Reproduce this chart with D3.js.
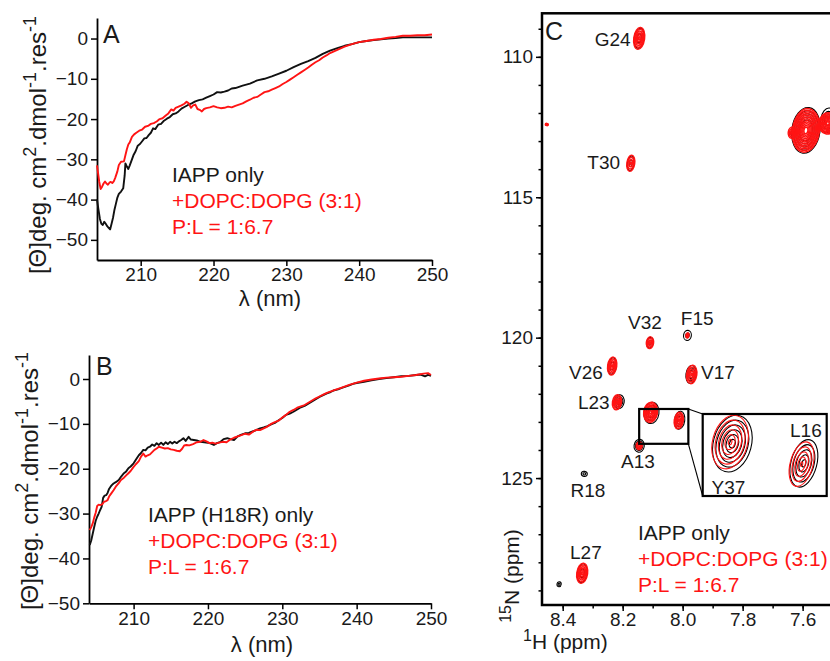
<!DOCTYPE html>
<html>
<head>
<meta charset="utf-8">
<script src="https://cdn.jsdelivr.net/npm/d3@7"></script>
<style>
  body { margin: 0; background: #fff; }
  svg { display: block; }
</style>
</head>
<body>
<script>
// ---------- CD spectra, [wavelength nm, mean residue ellipticity] ----------
const cdA_iapp = [[204.0,-40],[204.2,-42.5],[204.4,-44.8],[204.6,-46],[204.8,-46.3],[205.0,-45.5],[205.2,-46],[205.4,-46.6],[205.6,-47],[205.8,-47.4],[206.0,-46],[206.2,-44.5],[206.4,-42.5],[206.6,-41],[206.8,-39.5],[207.0,-38.6],[207.3,-38],[207.6,-37.2],[207.8,-34],[207.9,-31],[208.1,-31.8],[208.3,-32.4],[208.5,-31.5],[208.7,-30.5],[209.0,-29],[209.3,-28],[209.6,-26.6],[209.9,-26.2],[210.2,-25.5],[210.5,-24.8],[210.8,-24.7],[211.1,-24],[211.4,-23.4],[211.7,-22.3],[212.0,-22.5],[212.4,-21.4],[212.8,-21.2],[213.2,-20.4],[213.6,-19.9],[214.0,-19.5],[214.4,-18.8],[214.8,-18.6],[215.2,-18.1],[215.6,-17.4],[216.0,-17],[216.5,-16.5],[217.0,-16.1],[217.5,-15.6],[218.0,-15.3],[218.5,-15.1],[219.0,-14.7],[219.5,-14.3],[220.0,-13.9],[220.5,-13.3],[221.0,-13.4],[221.5,-13.2],[222.0,-12.9],[222.5,-12.4],[223.0,-12.3],[224,-11.7],[225,-11.2],[226,-10.4],[227,-10.0],[228,-9.4],[229,-8.7],[230,-8.0],[231,-7.1],[232,-6.3],[233,-5.6],[234,-4.8],[235,-3.8],[236,-3.0],[237,-2.4],[238,-1.8],[239,-1.4],[240,-0.9],[241,-0.6],[242,-0.4],[243,-0.2],[244,0.0],[245,0.1],[246,0.3],[247,0.3],[248,0.3],[249,0.3],[250,0.3]];
const cdA_lipid = [[204.0,-31.5],[204.1,-32.8],[204.3,-35.5],[204.5,-37.4],[204.7,-36.8],[204.9,-36],[205.1,-35.5],[205.3,-36],[205.5,-36.3],[205.7,-35.8],[205.9,-35.6],[206.1,-35.9],[206.3,-35.5],[206.5,-34.6],[206.8,-33],[207.0,-31.4],[207.3,-30.6],[207.7,-30.5],[207.9,-29],[208.1,-27.5],[208.3,-26.3],[208.5,-25.8],[208.8,-24.4],[209.1,-23.8],[209.4,-23.4],[209.8,-22.9],[210.2,-22.6],[210.6,-21.9],[211.0,-21.7],[211.4,-21.2],[211.8,-21],[212.2,-20.6],[212.6,-20],[213.0,-19.8],[213.4,-19.2],[213.8,-18.6],[214.2,-17.6],[214.5,-17.9],[214.8,-17.2],[215.2,-16.9],[215.6,-16.6],[216.0,-16.2],[216.3,-15.7],[216.6,-16.1],[216.9,-17.2],[217.2,-16.6],[217.5,-16.4],[217.8,-17.5],[218.1,-17.7],[218.4,-18.1],[218.7,-17.5],[219.0,-17.3],[219.5,-17.1],[220.0,-16.8],[220.5,-17.1],[221.0,-17.3],[221.5,-17.2],[222.0,-16.9],[222.5,-17.1],[223.0,-16.7],[223.5,-16.4],[224.0,-16.1],[224.5,-15.6],[225.0,-15.2],[225.5,-14.7],[226.0,-14.5],[226.5,-13.9],[227.0,-13.3],[227.5,-13.1],[228.0,-12.7],[228.5,-12.3],[229.0,-11.9],[229.5,-11.3],[230.0,-10.8],[230.5,-10.2],[231.0,-9.6],[231.5,-9.0],[232.0,-8.4],[232.5,-7.8],[233.0,-7.2],[233.5,-6.5],[234.0,-5.9],[234.5,-5.4],[235.0,-4.7],[235.5,-4.2],[236.0,-3.6],[237,-2.8],[238,-2.0],[239,-1.4],[240,-0.9],[241,-0.6],[242,-0.3],[243,-0.1],[244,0.2],[245,0.4],[246,0.7],[247,0.7],[248,0.8],[249,0.8],[250,1.0]];
const cdB_h18r = [[204.1,-37],[204.3,-36],[204.5,-34.5],[204.7,-33],[204.9,-31.6],[205.1,-30.7],[205.3,-30],[205.5,-29.2],[205.7,-28.5],[205.9,-26.5],[206.1,-26],[206.3,-25.9],[206.5,-25.4],[206.7,-24.5],[206.9,-24],[207.1,-23.6],[207.3,-23.3],[207.6,-23],[208.0,-22.5],[208.3,-21.8],[208.7,-21],[209.0,-20.6],[209.3,-19.9],[209.6,-19.5],[210.0,-18.8],[210.3,-18],[210.7,-17],[211.0,-16.5],[211.3,-15.8],[211.6,-15.9],[211.9,-15.3],[212.2,-15.1],[212.5,-14.6],[212.8,-14.9],[213.1,-14.3],[213.4,-14.7],[213.7,-14.2],[214.0,-14.7],[214.3,-14.1],[214.6,-14.5],[214.9,-14.0],[215.2,-14.4],[215.5,-14.0],[215.8,-14.3],[216.1,-13.9],[216.4,-13.6],[216.7,-13.2],[217.0,-13.8],[217.4,-12.9],[217.7,-13.5],[218.1,-13.6],[218.5,-13.7],[219.0,-14.0],[219.5,-14.1],[220.0,-14.2],[220.4,-14.4],[220.8,-14.7],[221.2,-14.3],[221.7,-14.0],[222.1,-13.4],[222.6,-13.2],[223.0,-13.4],[223.5,-13.6],[224.0,-12.8],[224.5,-12.4],[225.0,-12.1],[225.5,-12.0],[226.0,-11.7],[226.5,-11.4],[227.0,-11.0],[227.5,-10.8],[228.0,-10.5],[228.5,-10.1],[229.0,-9.8],[229.5,-9.2],[230.0,-8.7],[230.5,-8.0],[231.0,-7.7],[231.5,-7.3],[232.0,-6.8],[232.5,-6.3],[233.0,-6.0],[233.5,-5.5],[234.0,-5.0],[234.5,-4.5],[235.0,-4.0],[235.5,-3.6],[236.0,-3.2],[236.5,-2.9],[237.0,-2.5],[237.5,-2.3],[238.0,-2.0],[238.5,-1.7],[239.0,-1.4],[239.5,-1.1],[240,-0.9],[241,-0.6],[242,-0.3],[243,0.0],[244,0.2],[245,0.4],[246,0.6],[247,0.7],[248,0.9],[248.6,1.0],[249.2,0.6],[249.6,0.9],[250,0.7]];
const cdB_lipid = [[204.1,-33.7],[204.3,-33.0],[204.5,-32.2],[204.7,-30.9],[204.9,-29.8],[205.1,-28.3],[205.3,-28.0],[205.5,-28.1],[205.8,-27.9],[206.0,-27.4],[206.3,-27.2],[206.5,-27.0],[206.7,-26.2],[207.0,-25.5],[207.3,-24.8],[207.6,-24.0],[208.0,-23.2],[208.3,-22.5],[208.7,-22.0],[209.0,-21.5],[209.3,-21.0],[209.6,-20.5],[210.0,-19.6],[210.3,-19.0],[210.7,-18.3],[211.0,-17.3],[211.3,-16.6],[211.6,-17.3],[211.9,-17.0],[212.2,-16.8],[212.5,-16.3],[212.8,-15.8],[213.1,-15.5],[213.4,-15.1],[213.8,-15.3],[214.2,-15.5],[214.6,-15.4],[215.0,-15.7],[215.4,-15.8],[215.8,-16.0],[216.2,-16.1],[216.5,-15.6],[216.8,-14.8],[217.1,-14.7],[217.5,-14.8],[218.0,-14.5],[218.5,-14.1],[219.0,-14.0],[219.4,-13.6],[219.8,-13.9],[220.2,-14.3],[220.6,-14.2],[221.0,-14.4],[221.5,-14.2],[222.0,-14.0],[222.5,-14.1],[223.0,-13.5],[223.5,-13.1],[224.0,-12.8],[224.5,-12.5],[225.0,-12.2],[225.5,-12.4],[226.0,-11.8],[226.5,-11.3],[227.0,-11.4],[227.5,-11.0],[228.0,-10.6],[228.5,-10.0],[229.0,-9.6],[229.5,-9.3],[230.0,-8.6],[230.5,-8.0],[231.0,-7.3],[231.5,-6.9],[232.0,-6.4],[232.5,-6.1],[233.0,-5.8],[233.5,-5.3],[234.0,-4.8],[234.5,-4.3],[235.0,-3.9],[235.5,-3.5],[236.0,-3.1],[237,-2.5],[238,-1.9],[239,-1.3],[240,-0.8],[241,-0.4],[242,-0.1],[243,0.1],[244,0.3],[245,0.4],[246,0.5],[247,0.7],[248,0.9],[249,1.2],[249.6,1.3],[250,0.9]];

const cdTicksX = [210, 220, 230, 240, 250];
const cdTicksY = [0, -10, -20, -30, -40, -50];
const legendA = ['IAPP only', '+DOPC:DOPG (3:1)', 'P:L = 1:6.7'];
const legendB = ['IAPP (H18R) only', '+DOPC:DOPG (3:1)', 'P:L = 1:6.7'];
const legendC = ['IAPP only', '+DOPC:DOPG (3:1)', 'P:L = 1:6.7'];

// ---------- HSQC peaks (1H ppm, 15N ppm, half linewidths in ppm) ----------
const iappNames = ['G24','T30','V32','F15','V26','V17','L23','Y37','L16','A13','R18','L27','sc1','sc2','x2'];
const iappH   = [8.145, 8.173, 8.109, 7.984, 8.235, 7.972, 8.212, 8.104, 8.010, 8.145, 8.328, 8.335, 7.589, 7.516, 8.412];
const iappN   = [109.34, 113.79, 120.18, 119.92, 121.01, 121.31, 122.28, 122.68, 122.94, 123.85, 124.85, 128.39, 112.62, 112.26, 128.78];
const iappLwH = [0.016, 0.011, 0.011, 0.013, 0.014, 0.017, 0.017, 0.025, 0.017, 0.017, 0.010, 0.016, 0.047, 0.024, 0.007];
const iappLwN = [0.36, 0.26, 0.19, 0.18, 0.30, 0.32, 0.25, 0.38, 0.32, 0.23, 0.09, 0.34, 0.82, 0.44, 0.09];

const lipidNames = ['G24','T30','V32','F15','V26','V17','L23','Y37','L16','A13','L27','sc1','sc1b','sc2','x1'];
const lipidH   = [8.145, 8.173, 8.109, 7.984, 8.235, 7.970, 8.219, 8.107, 8.013, 8.145, 8.335, 7.589, 7.635, 7.516, 8.453];
const lipidN   = [109.34, 113.79, 120.18, 119.92, 121.01, 121.31, 122.30, 122.66, 122.95, 123.85, 128.39, 112.62, 112.70, 112.37, 112.41];
const lipidLwH = [0.018, 0.013, 0.012, 0.005, 0.015, 0.017, 0.015, 0.023, 0.015, 0.010, 0.018, 0.045, 0.013, 0.030, 0.005];
const lipidLwN = [0.39, 0.29, 0.21, 0.09, 0.32, 0.33, 0.27, 0.36, 0.30, 0.14, 0.36, 0.78, 0.20, 0.38, 0.04];

const mainLabels = ['G24','T30','V32','F15','V26','V17','L23','A13','R18','L27'];
const insetLabels = ['Y37','L16'];
const zoomBoxH = [8.145, 7.981];
const zoomBoxN = [122.54, 123.78];

const hTicks = [8.4, 8.2, 8.0, 7.8, 7.6];
const nTicks = [110, 115, 120, 125];

// ---------- layout ----------
const W = 830, H = 661;
const FONT = '"Liberation Sans", Arial, Helvetica, sans-serif';
const INK = '#1a1a1a';
const RED = '#ff1414';

const svg = d3.select('body').append('svg')
  .attr('width', W).attr('height', H)
  .attr('font-family', FONT);
svg.append('rect').attr('width', W).attr('height', H).attr('fill', '#fff');

function styleAxis(g, fs) {
  g.attr('font-family', FONT).attr('font-size', fs);
  g.selectAll('text').attr('fill', INK);
  g.selectAll('.tick line').attr('stroke', '#000').attr('stroke-width', 1.5);
  g.select('.domain').attr('stroke', '#000').attr('stroke-width', 1.8);
}

function yTitle(x, y) {
  const t = svg.append('text')
    .attr('transform', `translate(${x},${y}) rotate(-90)`)
    .attr('text-anchor', 'middle')
    .attr('font-size', 24).attr('fill', INK);
  t.append('tspan').text('[Θ]deg. cm');
  t.append('tspan').attr('font-size', 18).attr('dy', -10).text('2');
  t.append('tspan').attr('dy', 10).text('.dmol');
  t.append('tspan').attr('font-size', 18).attr('dy', -10).text('-1');
  t.append('tspan').attr('dy', 10).text('.res');
  t.append('tspan').attr('font-size', 18).attr('dy', -10).text('-1');
}

function legend(lines, x, y0, step) {
  lines.forEach((s, i) => {
    svg.append('text').attr('x', x).attr('y', y0 + i * step)
      .attr('font-size', 21).attr('fill', i === 0 ? INK : RED).text(s);
  });
}

function cdPanel(cfg) {
  const x = d3.scaleLinear().domain([204, 250]).range([cfg.x0, cfg.x1]);
  const y = d3.scaleLinear().domain(cfg.yDom).range([cfg.y1, cfg.y0]);

  const gx = svg.append('g').attr('transform', `translate(0,${cfg.y1})`)
    .call(d3.axisBottom(x).tickValues(cdTicksX).tickSize(6).tickSizeOuter(0).tickPadding(2));
  styleAxis(gx, 19);
  const gy = svg.append('g').attr('transform', `translate(${cfg.x0},0)`)
    .call(d3.axisLeft(y).tickValues(cdTicksY).tickSize(6).tickSizeOuter(0).tickPadding(3));
  styleAxis(gy, 19);

  const line = d3.line().x(d => x(d[0])).y(d => y(d[1]));
  svg.append('path').datum(cfg.black).attr('d', line)
    .attr('fill', 'none').attr('stroke', '#111').attr('stroke-width', 1.9).attr('stroke-linejoin', 'round');
  svg.append('path').datum(cfg.red).attr('d', line)
    .attr('fill', 'none').attr('stroke', RED).attr('stroke-width', 1.9).attr('stroke-linejoin', 'round');

  svg.append('text').attr('x', cfg.labelX).attr('y', cfg.labelY)
    .attr('font-size', 25).attr('fill', INK).text(cfg.label);
  svg.append('text').attr('x', cfg.titleX).attr('y', cfg.titleY)
    .attr('text-anchor', 'middle').attr('font-size', 22).attr('fill', INK).text('λ (nm)');
  yTitle(cfg.ytX, cfg.ytY);
  legend(cfg.legend, cfg.legX, cfg.legY, 26);
}

cdPanel({ x0: 97, x1: 432, y0: 18, y1: 260, yDom: [-55, 5.1],
  black: cdA_iapp, red: cdA_lipid, label: 'A', labelX: 103, labelY: 43,
  titleX: 270, titleY: 306, ytX: 46, ytY: 145, legend: legendA, legX: 172, legY: 182 });

cdPanel({ x0: 89, x1: 431, y0: 355, y1: 603.3, yDom: [-50, 5.35],
  black: cdB_h18r, red: cdB_lipid, label: 'B', labelX: 96, labelY: 375,
  titleX: 262, titleY: 652, ytX: 38, ytY: 481, legend: legendB, legX: 148, legY: 522 });

// ---------- panel C: HSQC ----------
const cx0 = 542, cx1 = 880, cy0 = 13.3, cy1 = 605;
const xC = d3.scaleLinear().domain([8.469, 7.342]).range([cx0, cx1]);
const yC = d3.scaleLinear().domain([108.45, 129.52]).range([cy0, cy1]);

svg.append('clipPath').attr('id', 'clipC')
  .append('rect').attr('x', cx0).attr('y', cy0).attr('width', cx1 - cx0).attr('height', cy1 - cy0);

// minor + major ticks
const gyMinor = svg.append('g').attr('transform', `translate(${cx0},0)`)
  .call(d3.axisLeft(yC).tickValues(d3.range(109, 130)).tickSize(3.5).tickFormat(''));
gyMinor.select('.domain').remove();
styleAxis(gyMinor, 19);
const gyMajor = svg.append('g').attr('transform', `translate(${cx0},0)`)
  .call(d3.axisLeft(yC).tickValues(nTicks).tickSize(6).tickPadding(3));
gyMajor.select('.domain').remove();
styleAxis(gyMajor, 19);

const gxMinor = svg.append('g').attr('transform', `translate(0,${cy1})`)
  .call(d3.axisBottom(xC).tickValues(d3.range(8.4, 7.45, -0.1)).tickSize(3.5).tickFormat(''));
gxMinor.select('.domain').remove();
styleAxis(gxMinor, 19);
const gxMajor = svg.append('g').attr('transform', `translate(0,${cy1})`)
  .call(d3.axisBottom(xC).tickValues(hTicks).tickSize(6).tickPadding(2).tickFormat(d3.format('.1f')));
gxMajor.select('.domain').remove();
styleAxis(gxMajor, 19);

// concentric contour ellipses; number of levels follows the peak's pixel size
function drawPeaks(g, xs, ys, Hs, Ns, lwH, lwN, color, spacing, minLevels, sw, minF, rot) {
  Hs.forEach((h, i) => {
    const cx = xs(h), cy = ys(Ns[i]);
    const rx = Math.abs(xs(h + lwH[i]) - cx), ry = Math.abs(ys(Ns[i] + lwN[i]) - cy);
    const levels = Math.max(minLevels, Math.round(rx * (1 - minF) / spacing) + 1);
    for (let k = 0; k < levels; k++) {
      const f = levels === 1 ? 1 : 1 - (k / (levels - 1)) * (1 - minF);
      g.append('ellipse')
        .attr('cx', cx).attr('cy', cy)
        .attr('rx', Math.max(rx * f, 0.4)).attr('ry', Math.max(ry * f, 0.4))
        .attr('transform', `rotate(${rot},${cx},${cy})`)
        .attr('fill', 'none').attr('stroke', color).attr('stroke-width', sw);
    }
  });
}

const gC = svg.append('g').attr('clip-path', 'url(#clipC)');
drawPeaks(gC, xC, yC, iappH, iappN, iappLwH, iappLwN, '#000', 1.8, 2, 1.1, 0.45, 8);
drawPeaks(gC, xC, yC, lipidH, lipidN, lipidLwH, lipidLwN, RED, 1.0, 4, 1.5, 0.15, 8);

// frame
svg.append('rect').attr('x', cx0).attr('y', cy0).attr('width', cx1 - cx0).attr('height', cy1 - cy0)
  .attr('fill', 'none').attr('stroke', '#000').attr('stroke-width', 2.5);

// peak labels
const labelOffsets = {
  G24: [-8.6, 7.4, 'end'], T30: [-10.7, 5.3, 'end'], V32: [-5, -13.3, 'middle'],
  F15: [9.7, -10, 'middle'], V26: [-9.3, 13.3, 'end'], V17: [10, 5, 'start'],
  L23: [-9.4, 7.3, 'end'], A13: [-1.3, 22, 'middle'], R18: [3.7, 22.7, 'middle'],
  L27: [3.7, -14, 'middle']
};
mainLabels.forEach(name => {
  const i = iappNames.indexOf(name);
  const o = labelOffsets[name];
  svg.append('text').attr('x', xC(iappH[i]) + o[0]).attr('y', yC(iappN[i]) + o[1])
    .attr('text-anchor', o[2]).attr('font-size', 19).attr('fill', INK).text(name);
});

// zoom box + inset
const bx0 = xC(zoomBoxH[0]), bx1 = xC(zoomBoxH[1]);
const by0 = yC(zoomBoxN[0]), by1 = yC(zoomBoxN[1]);
const ix0 = 702.7, ix1 = 826.7, iy0 = 414, iy1 = 496;
svg.append('rect').attr('x', bx0).attr('y', by0).attr('width', bx1 - bx0).attr('height', by1 - by0)
  .attr('fill', 'none').attr('stroke', '#000').attr('stroke-width', 2.2);
svg.append('line').attr('x1', bx1).attr('y1', by0).attr('x2', ix0).attr('y2', iy0)
  .attr('stroke', '#000').attr('stroke-width', 1.1);
svg.append('line').attr('x1', bx1).attr('y1', by1).attr('x2', ix0).attr('y2', iy1)
  .attr('stroke', '#000').attr('stroke-width', 1.1);

const xI = d3.scaleLinear().domain([8.143, 7.980]).range([ix0, ix1]);
const yI = d3.scaleLinear().domain([122.29, 123.37]).range([iy0, iy1]);
svg.append('clipPath').attr('id', 'clipI')
  .append('rect').attr('x', ix0).attr('y', iy0).attr('width', ix1 - ix0).attr('height', iy1 - iy0);
svg.append('rect').attr('x', ix0).attr('y', iy0).attr('width', ix1 - ix0).attr('height', iy1 - iy0)
  .attr('fill', '#fff');
const gI = svg.append('g').attr('clip-path', 'url(#clipI)');
const pick = (names, arrs) => {
  const idx = names.map((n, i) => insetLabels.includes(n) ? i : -1).filter(i => i >= 0);
  return arrs.map(a => idx.map(i => a[i]));
};
const [bH, bN, bWH, bWN] = pick(iappNames, [iappH, iappN, iappLwH, iappLwN]);
const [rH, rN, rWH, rWN] = pick(lipidNames, [lipidH, lipidN, lipidLwH, lipidLwN]);
drawPeaks(gI, xI, yI, bH, bN, bWH, bWN, '#000', 3.0, 5, 1.1, 0.15, 15);
drawPeaks(gI, xI, yI, rH, rN, rWH, rWN, RED, 3.0, 5, 1.1, 0.1, 15);
svg.append('rect').attr('x', ix0).attr('y', iy0).attr('width', ix1 - ix0).attr('height', iy1 - iy0)
  .attr('fill', 'none').attr('stroke', '#000').attr('stroke-width', 2.2);

const insetOffsets = { Y37: [-4, 50], L16: [2, -26.5] };
insetLabels.forEach(name => {
  const i = iappNames.indexOf(name);
  const o = insetOffsets[name];
  svg.append('text').attr('x', xI(iappH[i]) + o[0]).attr('y', yI(iappN[i]) + o[1])
    .attr('text-anchor', 'middle').attr('font-size', 19).attr('fill', INK).text(name);
});

// panel C label, titles, legend
svg.append('text').attr('x', 545).attr('y', 40).attr('font-size', 25).attr('fill', INK).text('C');

const tN = svg.append('text')
  .attr('transform', 'translate(519,576) rotate(-90)')
  .attr('text-anchor', 'middle').attr('font-size', 21).attr('fill', INK);
tN.append('tspan').attr('font-size', 16).attr('dy', -8).text('15');
tN.append('tspan').attr('dy', 8).text('N (ppm)');

const tH = svg.append('text').attr('x', 523).attr('y', 649)
  .attr('font-size', 21).attr('fill', INK);
tH.append('tspan').attr('font-size', 16).attr('dy', -8).text('1');
tH.append('tspan').attr('dy', 8).text('H (ppm)');

legend(legendC, 638, 540, 26);
</script>
</body>
</html>
